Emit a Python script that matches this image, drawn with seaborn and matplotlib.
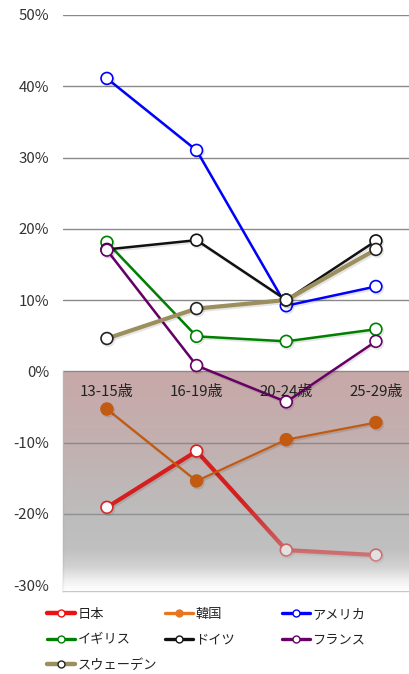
"""
Youth attitude survey: change by age group (recreated line chart)
"""

import numpy as np
import pandas as pd
import matplotlib.pyplot as plt
import matplotlib.patheffects as pe
from matplotlib.lines import Line2D
from matplotlib.colors import LinearSegmentedColormap
import seaborn as sns

# ---- data -------------------------------------------------------------
age_groups = ['13-15歳', '16-19歳', '20-24歳', '25-29歳']

japan = [-19.1, -11.2, -25.1, -25.8]
korea = [-5.3, -15.4, -9.6, -7.2]
usa = [41.1, 31.0, 9.2, 11.9]
uk = [18.1, 4.9, 4.2, 5.9]
germany = [17.1, 18.4, 10.0, 18.3]
france = [17.0, 0.8, -4.3, 4.2]
sweden = [4.6, 8.8, 10.0, 17.1]

series_names = ['日本', '韓国', 'アメリカ', 'イギリス', 'ドイツ', 'フランス', 'スウェーデン']
series_values = [japan, korea, usa, uk, germany, france, sweden]

y_ticks = [50, 40, 30, 20, 10, 0, -10, -20, -30]

# ---- styles -------------------------------------------------------------
styles = {
    '日本':       dict(color='#d61e1e', edge='#d61e1e', lw=3.0, filled=False, legend='#ee1111'),
    '韓国':       dict(color='#c25a12', edge='#c25a12', lw=1.6, filled=True, legend='#e8761e'),
    'アメリカ':   dict(color='#0000ff', edge='#0000ff', lw=1.8, filled=False, legend='#0000ff'),
    'イギリス':   dict(color='#008000', edge='#008000', lw=1.8, filled=False, legend='#008000'),
    'ドイツ':     dict(color='#111111', edge='#111111', lw=1.8, filled=False, legend='#111111'),
    'フランス':   dict(color='#660066', edge='#660066', lw=1.8, filled=False, legend='#660066'),
    'スウェーデン': dict(color='#9c8f5e', edge='#222222', lw=3.0, filled=False, legend='#9c8f5e'),
}

sns.set_style('white')
plt.rcParams['font.family'] = ['Noto Sans CJK JP', 'DejaVu Sans']

df = pd.DataFrame({
    'age': age_groups * len(series_names),
    'country': np.repeat(series_names, len(age_groups)),
    'value': np.concatenate(series_values),
})

fig = plt.figure(figsize=(4.10, 6.74), dpi=100)
ax = fig.add_axes([63 / 410, 1 - 591 / 674, 1 - 63 / 410, (591 - 15) / 674])

x_min, x_max = -0.49, 3.38
y_min, y_max = -30.84, 50
ax.set_xlim(x_min, x_max)
ax.set_ylim(y_min, y_max)

# negative area: rosy -> grey -> white gradient
bg_stops = [(0.0, '#c8a8a8'), (10 / 30.84, '#c3b0b0'), (19 / 30.84, '#bdbbbb'),
            (25.0 / 30.84, '#c0c0c0'), (27.5 / 30.84, '#d2d2d2'),
            (29.4 / 30.84, '#f0f0f0'), (1.0, '#ffffff')]
bg_cmap = LinearSegmentedColormap.from_list('neg_bg', bg_stops)
grad = np.linspace(0, 1, 256).reshape(-1, 1)
ax.imshow(grad, cmap=bg_cmap, aspect='auto', origin='upper',
          extent=[x_min, x_max, y_min, 0], zorder=0, interpolation='bicubic')

for t in y_ticks[:-1]:
    ax.axhline(t, color='#8a8a8a', lw=1.0, zorder=1)

shadow = [pe.SimpleLineShadow(offset=(1.0, -1.3), alpha=0.1, shadow_color='black'),
          pe.Normal()]

for name in series_names:
    st = styles[name]
    sub = df[df['country'] == name]
    z = 2 if name == '日本' else 4
    sns.lineplot(data=sub, x='age', y='value', ax=ax, sort=False,
                 color=st['color'], lw=st['lw'], marker='o', markersize=8.5,
                 markerfacecolor=st['color'] if st['filled'] else 'white',
                 markeredgecolor=st['edge'], markeredgewidth=1.2,
                 zorder=z, legend=False)
    ax.lines[-1].set_path_effects(shadow)

# fade of the lower part of the Japan line into the background
fade = np.ones((256, 1, 4))
rgb = bg_cmap(np.linspace(18 / 30.84, 1, 256))[:, :3]
fade[:, 0, :3] = rgb
fade[:, 0, 3] = np.clip(np.linspace(0, 0.9, 256), 0, 1) ** 1.1
ax.imshow(fade, aspect='auto', origin='upper',
          extent=[x_min, x_max, y_min, -18], zorder=3, interpolation='bicubic')

# category labels inside the negative area
for i, lab in enumerate(age_groups):
    ax.text(i, -2.95, lab, ha='center', va='center', fontsize=10.8,
            color='#222222', zorder=5)

ax.set_xticks([])
ax.set_yticks(y_ticks)
ax.set_yticklabels([f'{t}%' for t in y_ticks], fontsize=10.8, color='#333333')
ax.tick_params(axis='y', length=0, pad=10)
ax.set_xlabel('')
ax.set_ylabel('')

for s in ['top', 'right']:
    ax.spines[s].set_visible(False)
ax.spines['left'].set_bounds(y_min, 0)
ax.spines['left'].set_color('#b5b5b5')
ax.spines['bottom'].set_color('#c8c8c8')
ax.spines['left'].set_linewidth(1.0)
ax.spines['bottom'].set_linewidth(1.0)

# legend, three hand-placed columns
def handle(name):
    st = styles[name]
    return Line2D([], [], color=st['legend'], lw=3.2 if st['lw'] > 2.5 else 2.4,
                  marker='o', markersize=5,
                  markerfacecolor=st['legend'] if st['filled'] else 'white',
                  markeredgecolor=st['edge'] if name == 'スウェーデン' else st['legend'],
                  markeredgewidth=1.0)

columns = [(['日本', 'イギリス', 'スウェーデン'], 47),
           (['韓国', 'ドイツ'], 165),
           (['アメリカ', 'フランス'], 282)]
for names, x_px in columns:
    fig.legend([handle(n) for n in names], names, loc='upper left',
               bbox_to_anchor=(x_px / 410, 1 - 608 / 674), frameon=False,
               borderpad=0, borderaxespad=0, handlelength=2.1,
               handletextpad=0.2, labelspacing=0.95, fontsize=9.5,
               labelcolor='#222222')

fig.savefig('out.png', dpi=100)
plt.close(fig)
